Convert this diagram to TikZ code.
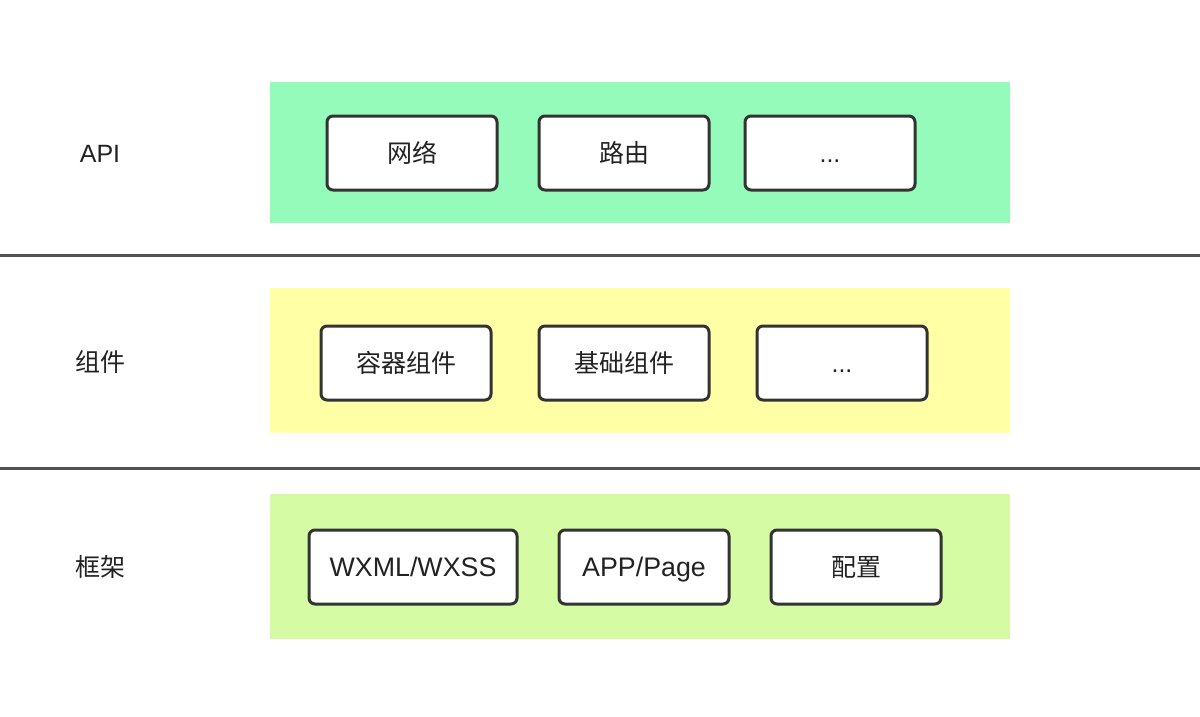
\documentclass[tikz,border=0pt]{standalone}
\usepackage{fontspec}
\setmainfont{Liberation Sans}
\newfontfamily\cjk{Noto Sans CJK SC}
\definecolor{bandA}{RGB}{149,251,186}
\definecolor{bandB}{RGB}{255,255,166}
\definecolor{bandC}{RGB}{213,252,165}
\definecolor{edge}{RGB}{51,51,51}
\definecolor{txt}{RGB}{34,34,34}
\begin{document}
\begin{tikzpicture}[x=1pt,y=-1pt,
  item/.style={draw=edge,line width=3pt,rounded corners=6pt,fill=white,minimum height=74pt,inner sep=0,text=txt,text height=18.5pt,text depth=0pt,font=\fontsize{25}{30}\selectfont\cjk},
  lat/.style={font=\fontsize{25}{30}\selectfont},
  latbig/.style={font=\fontsize{26.8}{30}\selectfont},
  lbl/.style={text=txt,inner sep=0,text height=18pt,text depth=0pt,font=\fontsize{25}{30}\selectfont\cjk},
  sep/.style={draw=edge!85,line width=3pt}]
\useasboundingbox (0,0) rectangle (1200,716);
\fill[white] (0,0) rectangle (1200,716);
% bands
\fill[bandA] (270,82) rectangle (1010,223);
\fill[bandB] (270,288) rectangle (1010,433);
\fill[bandC] (270,494) rectangle (1010,639);
% separators
\coordinate (s1l) at (0,255); \coordinate (s1r) at (1200,255);
\coordinate (s2l) at (0,468); \coordinate (s2r) at (1200,468);
\draw[sep] (s1l) -- (s1r);
\draw[sep] (s2l) -- (s2r);
% labels
\node[lbl,lat] (lapi) at (100,153) {API};
\node[lbl] (lcomp) at (100,362) {组件};
\node[lbl] (lfw) at (100,567) {框架};
% row 1
\node[item,minimum width=170pt] (net) at (412,153) {网络};
\node[item,minimum width=170pt] (route) at (624,153) {路由};
\node[item,lat,minimum width=170pt] (dots1) at (830,153) {...};
% row 2
\node[item,minimum width=170pt] (cont) at (406,363) {容器组件};
\node[item,minimum width=170pt] (basic) at (624,363) {基础组件};
\node[item,lat,minimum width=170pt] (dots2) at (842,363) {...};
% row 3
\node[item,latbig,minimum width=208pt] (wx) at (413,567) {WXML/WXSS};
\node[item,latbig,minimum width=170pt] (app) at (644,567) {APP/Page};
\node[item,minimum width=170pt] (cfg) at (856,567) {配置};
\end{tikzpicture}
\end{document}
